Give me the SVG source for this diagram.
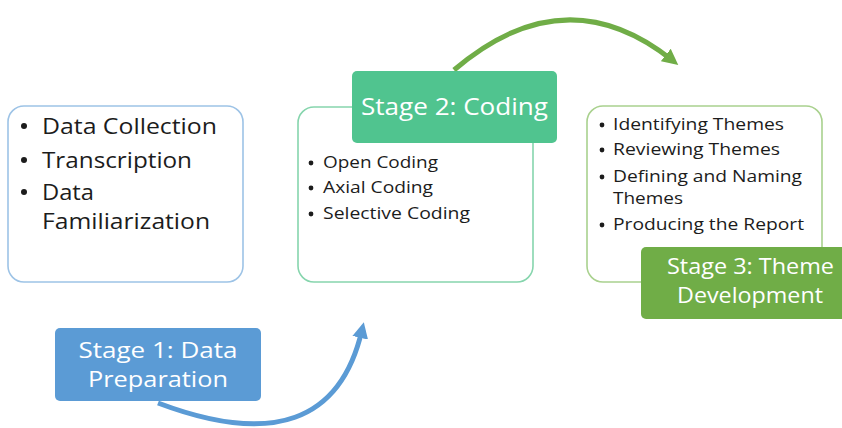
<svg xmlns="http://www.w3.org/2000/svg" width="842" height="428" viewBox="0 0 842 428">
  <style>
    .panel { fill: #ffffff; stroke-width: 1.6; }
    .item { font-family: "Open Sans", "Liberation Sans", sans-serif; fill: #1c1c1c; }
    .big { font-size: 22px; }
    .small { font-size: 16px; }
    .head { font-family: "Open Sans", "Liberation Sans", sans-serif; font-size: 21px; fill: #ffffff; text-anchor: middle; }
    .title2 { font-size: 24px; }
    .dot { fill: #1c1c1c; }
    .flow { fill: none; stroke-width: 5; stroke-linecap: butt; }
  </style>
  <defs>
    <marker id="tipBlue" viewBox="0 0 10 10" refX="5" refY="5" markerWidth="3.2" markerHeight="3.2" orient="auto" markerUnits="strokeWidth">
      <path d="M0 0 L10 5 L0 10 Z" fill="#5b9bd5"/>
    </marker>
    <marker id="tipGreen" viewBox="0 0 10 10" refX="5" refY="5" markerWidth="3.2" markerHeight="3.2" orient="auto" markerUnits="strokeWidth">
      <path d="M0 0 L10 5 L0 10 Z" fill="#70ad47"/>
    </marker>
  </defs>

  <!-- stage panels with their task lists -->
  <g id="panel-preparation">
    <rect class="panel" x="8" y="106" width="235" height="176" rx="16" stroke="#9dc3e6"/>
    <circle class="dot" cx="24" cy="126" r="3"/>
    <text class="item big" x="42" y="134" textLength="175" lengthAdjust="spacingAndGlyphs">Data Collection</text>
    <circle class="dot" cx="24" cy="160" r="3"/>
    <text class="item big" x="42" y="168" textLength="150" lengthAdjust="spacingAndGlyphs">Transcription</text>
    <circle class="dot" cx="24" cy="192" r="3"/>
    <text class="item big" x="42" y="200" textLength="52" lengthAdjust="spacingAndGlyphs">Data</text>
    <text class="item big" x="42" y="229" textLength="168" lengthAdjust="spacingAndGlyphs">Familiarization</text>
  </g>

  <g id="panel-coding">
    <rect class="panel" x="298" y="107" width="235" height="175" rx="16" stroke="#86d5ad"/>
    <circle class="dot" cx="311" cy="163" r="2.4"/>
    <text class="item small" x="323" y="168" textLength="115" lengthAdjust="spacingAndGlyphs">Open Coding</text>
    <circle class="dot" cx="311" cy="188" r="2.4"/>
    <text class="item small" x="323" y="193" textLength="110" lengthAdjust="spacingAndGlyphs">Axial Coding</text>
    <circle class="dot" cx="311" cy="214" r="2.4"/>
    <text class="item small" x="323" y="219" textLength="147" lengthAdjust="spacingAndGlyphs">Selective Coding</text>
  </g>

  <g id="panel-themes">
    <rect class="panel" x="587" y="106" width="235" height="176" rx="16" stroke="#a9d18e"/>
    <circle class="dot" cx="602" cy="125" r="2.4"/>
    <text class="item small" x="613" y="130" textLength="171" lengthAdjust="spacingAndGlyphs">Identifying Themes</text>
    <circle class="dot" cx="602" cy="150" r="2.4"/>
    <text class="item small" x="613" y="155" textLength="167" lengthAdjust="spacingAndGlyphs">Reviewing Themes</text>
    <circle class="dot" cx="602" cy="177" r="2.4"/>
    <text class="item small" x="613" y="182" textLength="189" lengthAdjust="spacingAndGlyphs">Defining and Naming</text>
    <text class="item small" x="613" y="204" textLength="70" lengthAdjust="spacingAndGlyphs">Themes</text>
    <circle class="dot" cx="602" cy="225" r="2.4"/>
    <text class="item small" x="613" y="230" textLength="191" lengthAdjust="spacingAndGlyphs">Producing the Report</text>
  </g>

  <!-- curved arrows between stages -->
  <g id="connectors">
    <path class="flow" d="M158 403 Q330 468 362 330" stroke="#5b9bd5" marker-end="url(#tipBlue)"/>
    <path class="flow" d="M454 70 Q565 -25 672 60" stroke="#70ad47" marker-end="url(#tipGreen)"/>
  </g>

  <!-- stage title tabs -->
  <g id="stage-1">
    <rect x="55" y="328" width="206" height="73" rx="5" fill="#5b9bd5"/>
    <text class="head" x="158" y="358" textLength="159" lengthAdjust="spacingAndGlyphs">Stage 1: Data</text>
    <text class="head" x="158" y="387" textLength="140" lengthAdjust="spacingAndGlyphs">Preparation</text>
  </g>

  <g id="stage-2">
    <rect x="352" y="71" width="205" height="72" rx="5" fill="#50c48f"/>
    <text class="head title2" x="454.5" y="115" textLength="187" lengthAdjust="spacingAndGlyphs">Stage 2: Coding</text>
  </g>

  <g id="stage-3">
    <rect x="641" y="247" width="206" height="72" rx="5" fill="#70ad47"/>
    <text class="head" x="750.5" y="274" textLength="167" lengthAdjust="spacingAndGlyphs">Stage 3: Theme</text>
    <text class="head" x="750" y="303" textLength="146" lengthAdjust="spacingAndGlyphs">Development</text>
  </g>
</svg>
